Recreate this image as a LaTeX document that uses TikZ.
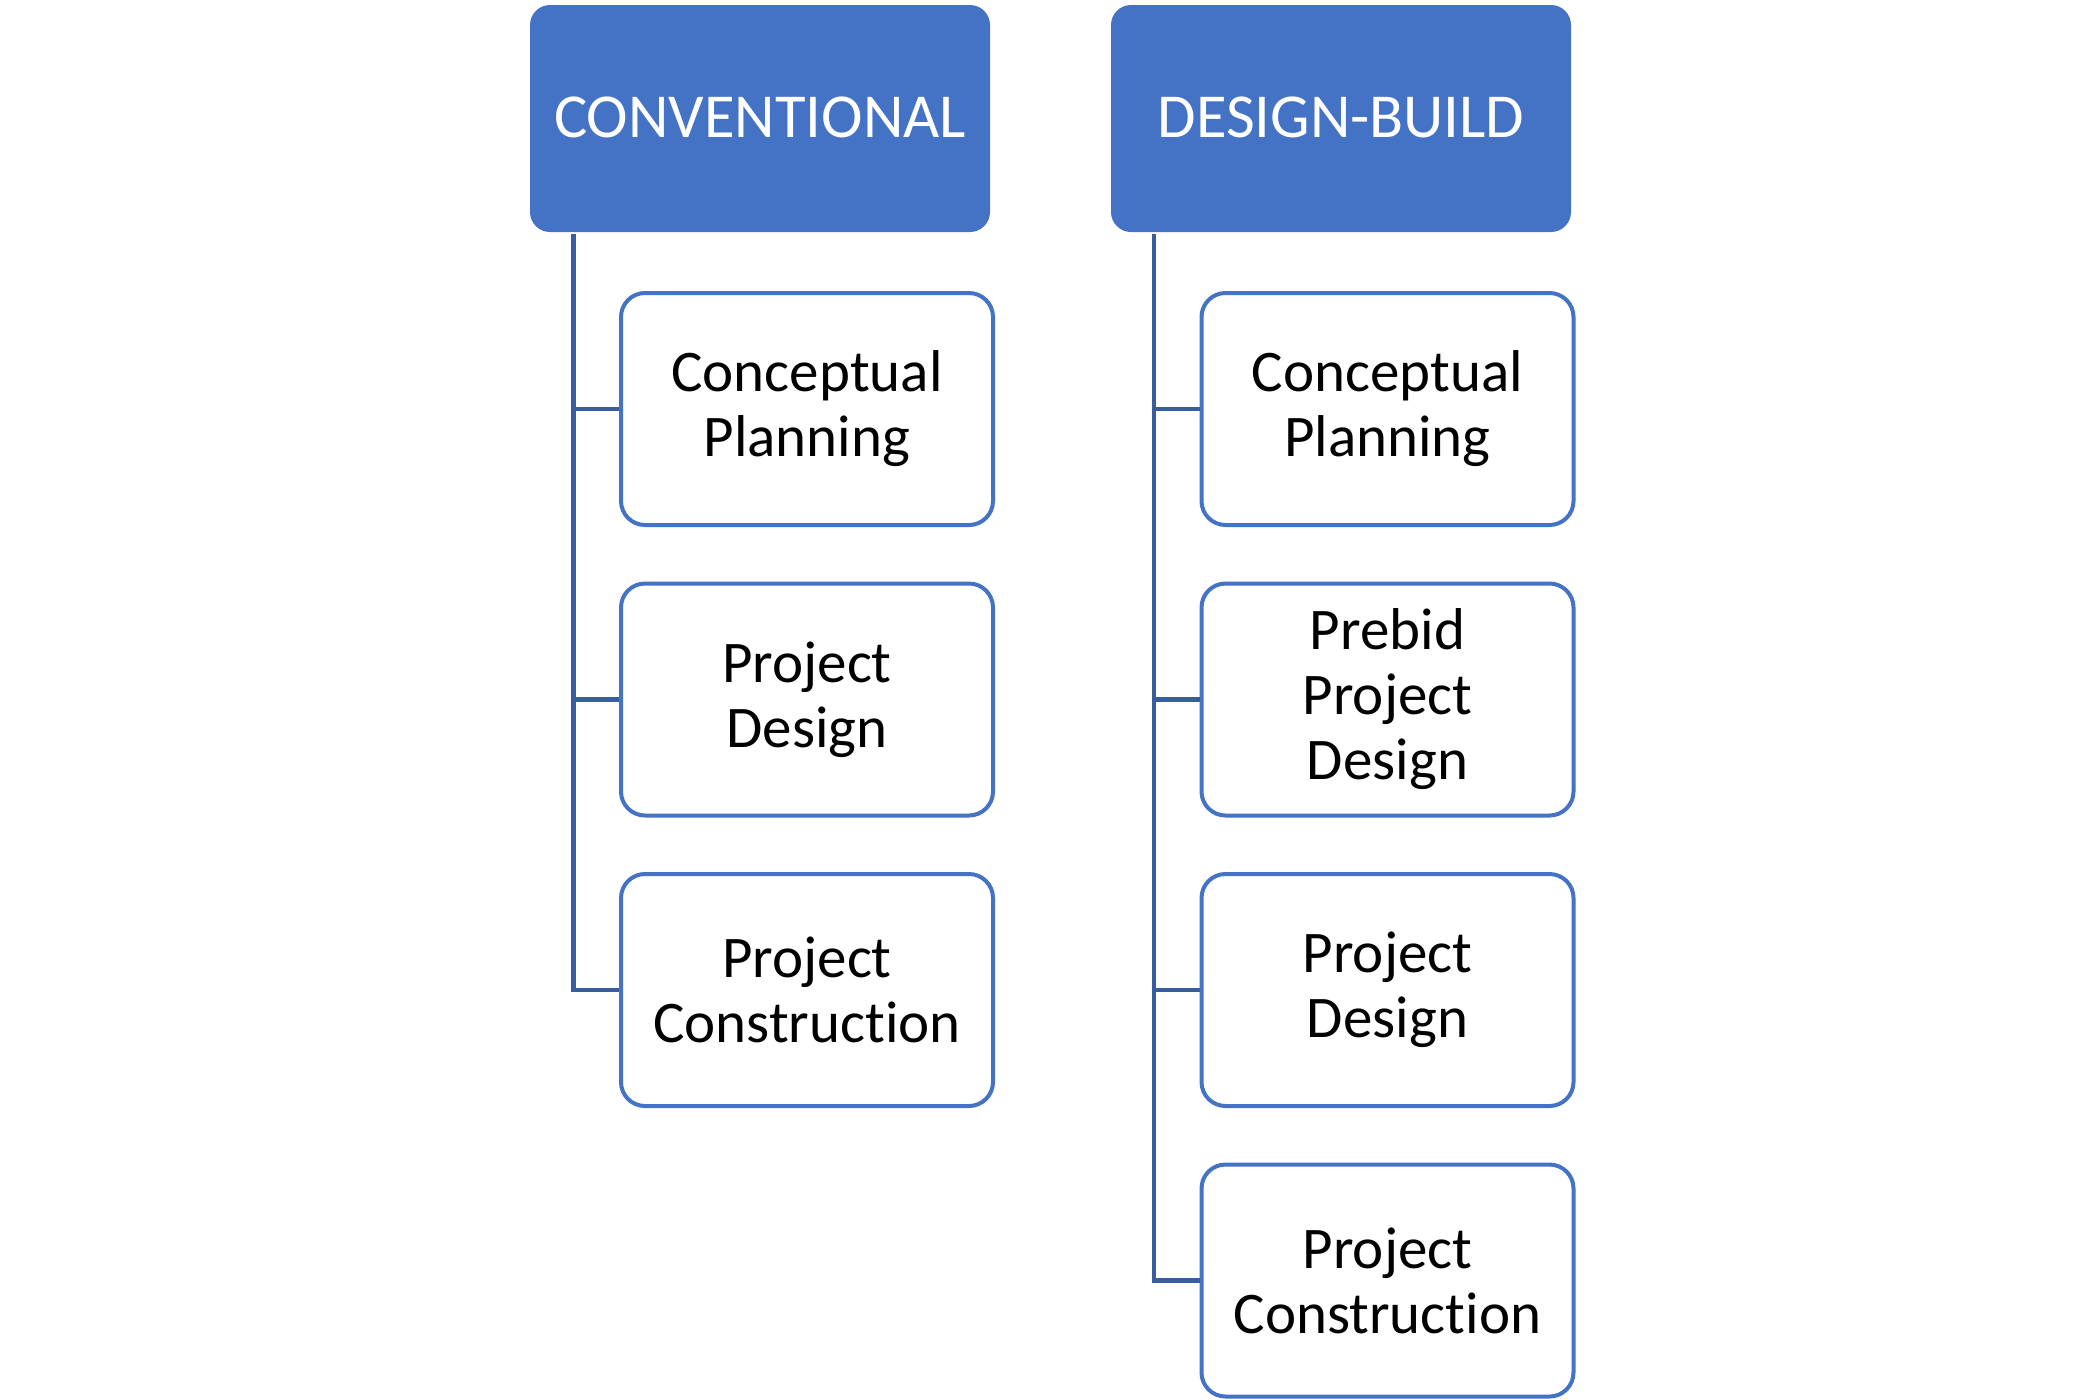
\documentclass[tikz,border=0pt]{standalone}
\usepackage{fontspec}
\setmainfont{Carlito}[Ligatures=CommonOff]
\definecolor{accent}{HTML}{4472C4}
\definecolor{linkc}{HTML}{375C9F}
\newcommand{\consword}{Construct\kern0pt ion}
\begin{document}
\begin{tikzpicture}[x=0.5pt,y=0.5pt,
  header/.style={fill=accent,draw=none,rounded corners=10pt,minimum width=230pt,minimum height=113.5pt,
    text=white,font=\fontsize{31.3}{34}\selectfont,align=center,inner sep=0pt},
  child/.style={draw=accent,line width=2pt,fill=white,rounded corners=12pt,minimum width=186pt,minimum height=116pt,
    text=black,font=\fontsize{29.5}{32.5}\selectfont,align=center,inner sep=0pt},
  link/.style={draw=linkc,line width=2.2pt}]
\useasboundingbox (0,0) rectangle (2099,-1399);
% left column
\node[header] (hA) at (760,-118.5) {\raisebox{1.5pt}{CONVENTIONAL}};
\node[child] (a1) at (807,-409) {Conceptual\\Planning};
\node[child] (a2) at (807,-699.5) {Project\\Design};
\node[child] (a3) at (807,-990) {Project\\\consword};
% right column
\node[header] (hB) at (1341,-118.5) {\raisebox{1.5pt}{DESIGN-BUILD}};
\node[child] (b1) at (1387.5,-409) {Conceptual\\Planning};
\node[child] (b2) at (1387.5,-699.5) {Prebid\\Project\\Design};
\node[child] (b3) at (1387.5,-990) {Project\\Design};
\node[child] (b4) at (1387.5,-1280.5) {Project\\\consword};
% connectors
\coordinate (sA) at (573.5,-234);
\coordinate (sB) at (1154,-234);
\draw[link] (sA) |- (a1.west);
\draw[link] (sA) |- (a2.west);
\draw[link] (sA) |- (a3.west);
\draw[link] (sB) |- (b1.west);
\draw[link] (sB) |- (b2.west);
\draw[link] (sB) |- (b3.west);
\draw[link] (sB) |- (b4.west);
\end{tikzpicture}
\end{document}
